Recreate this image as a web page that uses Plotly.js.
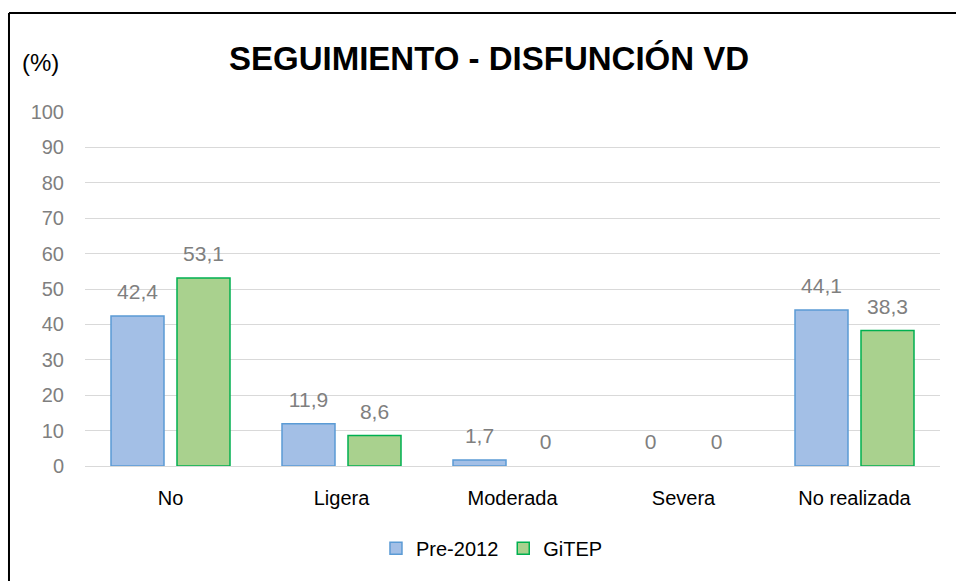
<!DOCTYPE html>
<html>
<head>
<meta charset="utf-8">
<script src="https://cdn.plot.ly/plotly-3.0.1.min.js"></script>
<style>html,body{margin:0;padding:0;background:#fff;}#chart{width:956px;height:581px;}</style>
</head>
<body>
<div id="chart"></div>
<script>
const categories = ["No", "Ligera", "Moderada", "Severa", "No realizada"];
const pre2012 = [42.4, 11.9, 1.7, 0, 44.1];
const gitep = [53.1, 8.6, 0, 0, 38.3];
const seriesNames = ["Pre-2012", "GiTEP"];
const yTicks = [0, 10, 20, 30, 40, 50, 60, 70, 80, 90, 100];

const FONT = "Liberation Sans, Arial, sans-serif";
const fmt = v => String(v).replace('.', ',');
const edge = vals => vals.map(v => (v === 0 ? 0 : 1.5));

function barTrace(name, vals, fill, border, grp) {
  return {
    type: 'bar', name: name, x: categories, y: vals, offsetgroup: grp,
    marker: {color: fill, line: {color: border, width: edge(vals)}},
    hoverinfo: 'skip'
  };
}
function labelTrace(vals, grp) {
  return {
    type: 'scatter', mode: 'markers+text', x: categories, y: vals, offsetgroup: grp,
    text: vals.map(fmt), textposition: 'top center', cliponaxis: false,
    textfont: {family: FONT, size: 21, color: '#7f7f7f'},
    marker: {size: 17, opacity: 0}, showlegend: false, hoverinfo: 'skip'
  };
}

const traces = [
  barTrace(seriesNames[0], pre2012, '#a3bfe6', '#5b9bd5', 'a'),
  barTrace(seriesNames[1], gitep, '#a9d18e', '#00b050', 'b'),
  labelTrace(pre2012, 'a'),
  labelTrace(gitep, 'b')
];

const layout = {
  width: 956, height: 581,
  margin: {l: 85, r: 16, t: 112, b: 115},
  paper_bgcolor: '#ffffff', plot_bgcolor: '#ffffff',
  barmode: 'group', bargap: 0.228, bargroupgap: 0.197,
  scattermode: 'group', scattergap: 0.228,
  showlegend: true,
  legend: {orientation: 'h', x: 0.476, xanchor: 'center', y: -0.232, yanchor: 'middle',
           font: {family: FONT, size: 20, color: '#000000'}, traceorder: 'normal'},
  font: {family: FONT},
  xaxis: {
    showgrid: false, showline: true, linecolor: '#d9d9d9', linewidth: 1,
    ticks: '', ticklabelstandoff: 14, tickfont: {family: FONT, size: 20, color: '#000000'}, automargin: false
  },
  yaxis: {
    range: [0, 100], tickvals: yTicks, ticktext: yTicks.map(String),
    showgrid: true, gridcolor: '#d9d9d9', gridwidth: 1, zeroline: false, showline: false,
    ticks: '', ticklabelstandoff: 20, tickfont: {family: FONT, size: 20, color: '#7f7f7f'}, automargin: false
  },
  annotations: [
    {text: '<b>SEGUIMIENTO - DISFUNCIÓN VD</b>', xref: 'paper', yref: 'paper', x: 0.4725, y: 1.15,
     xanchor: 'center', yanchor: 'middle', showarrow: false, font: {family: FONT, size: 33, color: '#000000'}},
    {text: '(%)', xref: 'paper', yref: 'paper', x: -0.052, y: 1.14,
     xanchor: 'center', yanchor: 'middle', showarrow: false, font: {family: FONT, size: 24, color: '#000000'}}
  ],
  shapes: [
    {type: 'line', xref: 'paper', yref: 'paper', x0: -0.0889, x1: 1.03, y0: 1.2797, y1: 1.2797,
     line: {color: '#000000', width: 2}},
    {type: 'line', xref: 'paper', yref: 'paper', x0: -0.0889, x1: -0.0889, y0: 1.2797, y1: -0.33,
     line: {color: '#000000', width: 2}}
  ]
};

Plotly.newPlot('chart', traces, layout, {displayModeBar: false, staticPlot: true});
</script>
</body>
</html>
